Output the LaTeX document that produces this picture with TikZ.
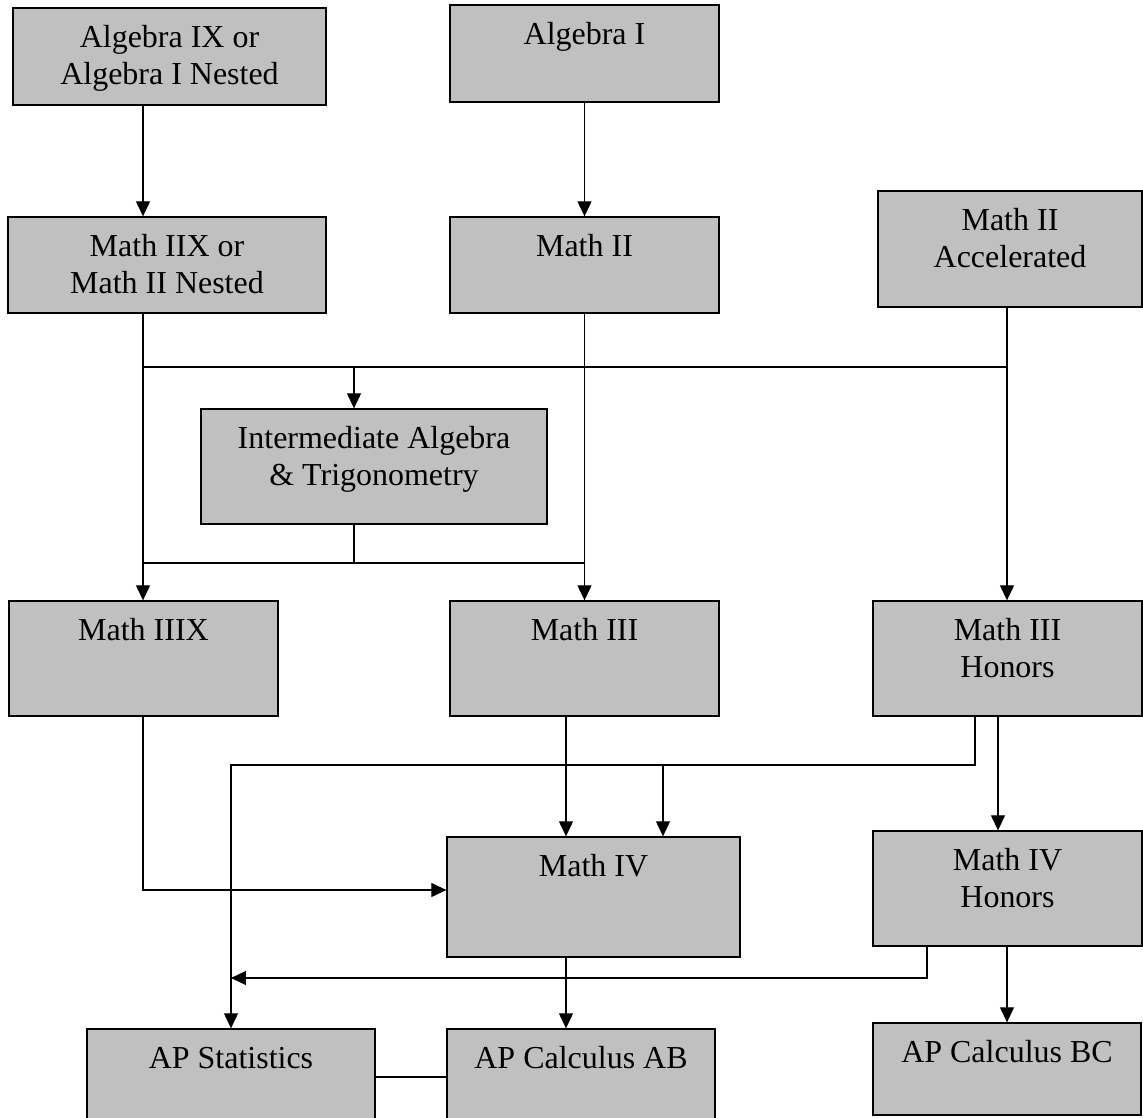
\documentclass[tikz,border=0pt]{standalone}
\usepackage{fontspec}
\setmainfont{Liberation Serif}
\usetikzlibrary{arrows.meta,calc}

\definecolor{boxgray}{RGB}{192,192,192}

\tikzset{
  course/.style={rectangle, draw=black, line width=0.75pt, fill=boxgray, inner sep=0pt},
  lbl/.style={anchor=base, inner sep=0pt, font=\fontsize{18.2pt}{21pt}\selectfont},
  link/.style={draw=black, line width=0.65pt},
  arr/.style={link, -{Triangle[length=0.3cm, width=0.28cm]}},
}

% box given by its corners (x1,y1)-(x2,y2), caption hung 40 units below its top edge
\newcommand\coursebox[6]{%
  \node[course, minimum width={(#4-#2)*0.02cm}, minimum height={(#5-#3)*0.02cm}]
    (#1) at ({(#2+#4)/2},{(#3+#5)/2}) {};
  \node[lbl] (#1-t) at ($(#1.north)+(0,40)$) {\begin{tabular}[t]{@{}c@{}}#6\end{tabular}};
}

\begin{document}
\begin{tikzpicture}[x=0.02cm, y=-0.02cm]
\useasboundingbox (0,0) rectangle (1143,1118);

% courses
\coursebox{a9}{13}{8}{326}{105}{Algebra IX or\\Algebra I Nested}
\coursebox{a1}{450}{5}{719}{102}{Algebra I}
\coursebox{m2x}{8}{217}{326}{313}{Math IIX or\\Math II Nested}
\coursebox{m2}{450}{217}{719}{313}{Math II}
\coursebox{m2a}{878}{191}{1142}{307}{Math II\\Accelerated}
\coursebox{iat}{201}{409}{547}{524}{Intermediate Algebra\\\& Trigonometry}
\coursebox{m3x}{9}{601}{278}{716}{Math IIIX}
\coursebox{m3}{450}{601}{719}{716}{Math III}
\coursebox{m3h}{873}{601}{1142}{716}{Math III\\Honors}
\coursebox{m4}{447}{837}{740}{957}{Math IV}
\coursebox{m4h}{873}{831}{1142}{946}{Math IV\\Honors}
\coursebox{aps}{87}{1029}{375}{1124}{AP Statistics}
\coursebox{apab}{447}{1029}{715}{1124}{AP Calculus AB}
\coursebox{apbc}{873}{1023}{1141}{1115}{AP Calculus BC}

% guide positions for the connector runs
\coordinate (xL) at (143,0);
\coordinate (xI) at (354,0);
\coordinate (xR) at (1007,0);
\coordinate (xS) at (231,0);
\coordinate (xIV) at (566,0);
\coordinate (xIVr) at (663,0);
\coordinate (xHa) at (975,0);
\coordinate (xHb) at (998,0);
\coordinate (xHc) at (927,0);
\coordinate (yA) at (0,367);
\coordinate (yB) at (0,563);
\coordinate (yC) at (0,890);
\coordinate (yD) at (0,765);
\coordinate (yE) at (0,978);
\coordinate (yF) at (0,1077);

% first and second year
\draw[arr] (a9.south -| xL) -- (m2x.north -| xL);
\draw[arr] (a1.south) -- (m2.north);

% into third year
\draw[arr] (m2x.south -| xL) -- (m3x.north -| xL);
\draw[link] (xL |- yA) -- (xR |- yA);
\draw[arr] (xI |- yA) -- (iat.north -| xI);
\draw[arr] (m2.south) -- (m3.north);
\draw[arr] (m2a.south -| xR) -- (m3h.north -| xR);
\draw[link] (iat.south -| xI) -- (xI |- yB);
\draw[link] (xL |- yB) -- (m2 |- yB);

% into fourth year
\draw[arr] (m3x.south -| xL) -- (xL |- yC) -- (m4.west |- yC);
\draw[arr] (m3.south -| xIV) -- (m4.north -| xIV);
\draw[arr] (m3h.south -| xHa) -- (xHa |- yD) -- (xS |- yD) -- (aps.north -| xS);
\draw[arr] (xIVr |- yD) -- (m4.north -| xIVr);
\draw[arr] (m3h.south -| xHb) -- (m4h.north -| xHb);

% AP courses
\draw[arr] (m4.south -| xIV) -- (apab.north -| xIV);
\draw[arr] (m4h.south -| xHc) -- (xHc |- yE) -- (xS |- yE);
\draw[arr] (m4h.south -| xR) -- (apbc.north -| xR);
\draw[link] (aps.east |- yF) -- (apab.west |- yF);
\end{tikzpicture}
\end{document}
